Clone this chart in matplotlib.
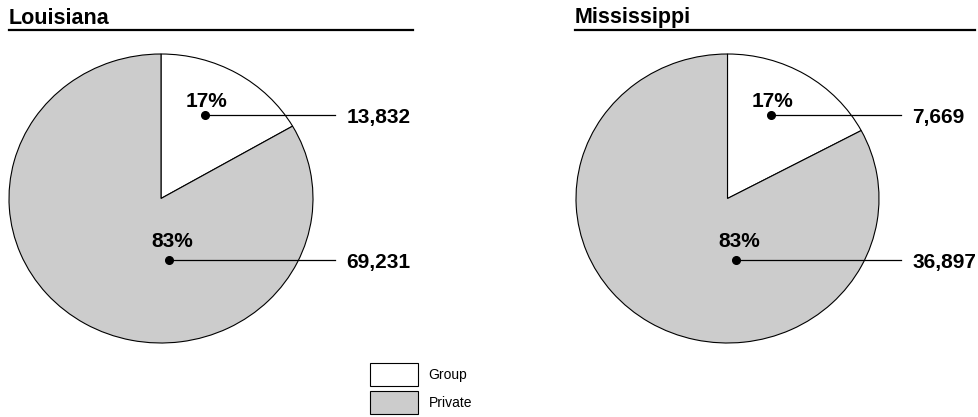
import matplotlib
matplotlib.use("Agg")
import matplotlib.pyplot as plt
from matplotlib.lines import Line2D

plt.rcParams["font.family"] = ["Liberation Sans", "DejaVu Sans"]

W, H = 979, 417

categorias = ["Group", "Private"]
cores = ["#ffffff", "#cccccc"]
estados = ["Louisiana", "Mississippi"]
contagens = {
    "Louisiana": [13832, 69231],
    "Mississippi": [7669, 36897],
}

# caixa de cada pizza em pixels (esq, dir, topo, base) e faixa do título
caixas = {
    "Louisiana": (9, 313, 54, 343),
    "Mississippi": (576, 879, 54, 343),
}
faixas = {
    "Louisiana": (9, 413),
    "Mississippi": (575, 975),
}

# posição dos pontos e rótulos, em unidades do raio
pontos = [(0.29, 0.575), (0.055, -0.423)]
pct_xy = [(0.30, 0.635), (0.075, -0.335)]
fim_linha = 1.145
x_valor = 1.22


def px(x, y):
    return x / W, 1 - y / H


fig = plt.figure(figsize=(W / 100, H / 100), dpi=100)

for estado in estados:
    esq, dir_, topo, base = caixas[estado]
    x0, y0 = px(esq, base)
    ax = fig.add_axes([x0, y0, (dir_ - esq) / W, (base - topo) / H])
    valores = contagens[estado]
    fatias, _ = ax.pie(valores, colors=cores, startangle=90, counterclock=False,
                       radius=1, wedgeprops=dict(edgecolor="black", linewidth=0.8))
    ax.set_aspect("auto")
    ax.set_xlim(-1, 1)
    ax.set_ylim(-1, 1)
    ax.axis("off")

    total = sum(valores)
    for (dx, dy), (tx, ty), v in zip(pontos, pct_xy, valores):
        ax.plot([dx, fim_linha], [dy, dy], color="black", lw=0.9, clip_on=False)
        ax.plot(dx, dy, "o", color="black", ms=5.5, clip_on=False)
        ax.text(tx, ty, f"{v / total:.0%}", ha="center", va="baseline",
                fontsize=15, fontweight="bold", clip_on=False)
        ax.text(x_valor, dy - 0.055, f"{v:,}", ha="left", va="baseline",
                fontsize=15, fontweight="bold", clip_on=False)

    # título com a régua embaixo
    a, b = faixas[estado]
    fig.text(*px(a, 23.5), estado, ha="left", va="baseline",
             fontsize=15.5, fontweight="bold")
    fig.add_artist(Line2D([a / W, b / W], [1 - 30 / H] * 2, color="black",
                          lw=1.6, transform=fig.transFigure))

fig.legend(fatias, categorias, loc="upper left",
           bbox_to_anchor=px(369, 362), frameon=False, fontsize=10,
           handlelength=3.4, handleheight=2.1, handletextpad=0.8,
           labelspacing=0.4, borderaxespad=0, borderpad=0.1)

fig.savefig("out.png", dpi=100)
